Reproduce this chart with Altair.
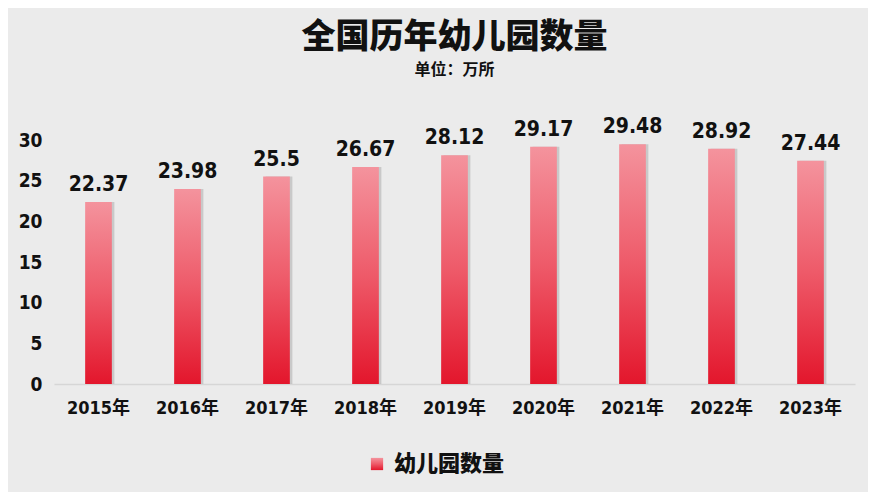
import altair as alt
import pandas as pd

years = ["2015年", "2016年", "2017年", "2018年", "2019年", "2020年", "2021年", "2022年", "2023年"]
values = [22.37, 23.98, 25.5, 26.67, 28.12, 29.17, 29.48, 28.92, 27.44]
series_name = "幼儿园数量"
y_ticks = [0, 5, 10, 15, 20, 25, 30]

df = pd.DataFrame({"year": years, "value": values, "series": [series_name] * len(years)})

FONT = "DejaVu Sans Condensed, Noto Sans CJK SC, sans-serif"
CJK = "Noto Sans CJK SC, sans-serif"

grad = alt.Gradient(
    gradient="linear",
    stops=[
        alt.GradientStop(color="#f4939d", offset=0),
        alt.GradientStop(color="#ee5a69", offset=0.5),
        alt.GradientStop(color="#e3162c", offset=1),
    ],
    x1=0, x2=0, y1=0, y2=1,
)

x_enc = alt.X(
    "year:N",
    sort=years,
    scale=alt.Scale(paddingInner=0.7, paddingOuter=0.35),
    axis=alt.Axis(
        title=None, labelAngle=0, ticks=False, domain=True, domainColor="#d6d6d6",
        domainWidth=1.5, labelPadding=15, labelFontSize=18, labelFont=FONT,
        labelFontWeight="bold", labelColor="#111111",
    ),
)
y_enc = alt.Y(
    "value:Q",
    scale=alt.Scale(domain=[0, 30], nice=False),
    axis=alt.Axis(
        title=None, values=y_ticks, grid=False, domain=False, ticks=False,
        labelPadding=12, labelFontSize=19, labelFont=FONT, labelFontWeight="bold",
        labelColor="#111111",
    ),
)

base = alt.Chart(df)

shadow = base.mark_bar(color="#8a8a8a", opacity=0.35, xOffset=2.5, clip=False).encode(
    x=x_enc, y=y_enc
)

bars = base.mark_bar(fill=grad, clip=False).encode(
    x=x_enc,
    y=y_enc,
    opacity=alt.Opacity(
        "series:N",
        scale=alt.Scale(domain=[series_name], range=[1]),
        legend=alt.Legend(
            title=None, orient="none", legendX=312, legendY=313,
            symbolType="square", symbolSize=150, labelFontSize=22,
            labelFont=CJK, labelFontWeight=900, labelColor="#111111",
            symbolStrokeWidth=0, labelOffset=6,
        ),
    ),
)

labels = base.mark_text(
    baseline="bottom", dy=-7, fontSize=21, font=FONT, fontWeight="bold", color="#111111"
).encode(x=x_enc, y=y_enc, text=alt.Text("value:Q"))

chart = (
    alt.layer(shadow, bars, labels)
    .properties(
        width=801,
        height=244,
        padding={"left": 46, "top": 132, "right": 13, "bottom": 108},
        autosize=alt.AutoSizeParams(type="none"),
        background="#ebebeb",
        title=alt.Title(
            text="全国历年幼儿园数量",
            subtitle="单位：万所",
            anchor="middle",
            offset=38,
            fontSize=34,
            font=CJK,
            fontWeight=900,
            color="#111111",
            subtitleFont=CJK,
            subtitleFontSize=16,
            subtitleFontWeight="bold",
            subtitleColor="#111111",
            subtitlePadding=7,
        ),
    )
    .configure_view(stroke=None)
)

chart.save("out.html", embed_options={"renderer": "svg", "actions": False})
